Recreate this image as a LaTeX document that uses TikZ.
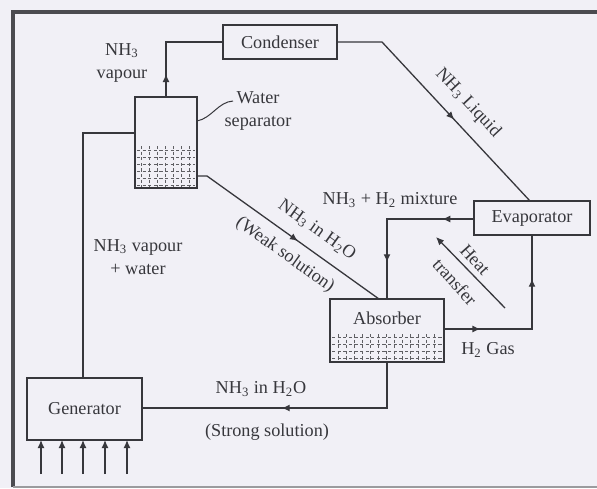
\documentclass[tikz,border=0pt]{standalone}
\usepackage{fontspec}
\setmainfont{Liberation Serif}
\usetikzlibrary{arrows.meta,decorations.markings}
\definecolor{bg}{RGB}{241,240,246}
\definecolor{ink}{RGB}{55,55,60}
\tikzset{
  box/.style={draw=ink,line width=0.9pt,inner sep=0pt},
  lbl/.style={text=ink,font=\fontsize{9.1}{11.5}\selectfont,inner sep=0pt,align=center},
  pipe/.style={draw=ink,line width=0.65pt},
  tip/.style={-{Latex[length=4pt,width=3.5pt]}},
  markone/.style={postaction={decorate},decoration={markings,
     mark=at position #1 with {\arrow{Latex[length=4pt,width=3.5pt]}}}},
  marktwo/.style 2 args={postaction={decorate},decoration={markings,
     mark=at position #1 with {\arrow{Latex[length=4pt,width=3.5pt]}},
     mark=at position #2 with {\arrow{Latex[length=4pt,width=3.5pt]}}}},
  liquid/.style={draw=ink!80,line width=0.4pt,dash pattern=on 1.6pt off 1.2pt}
}
\newcommand{\nh}{NH\textsubscript{3}}
\newcommand{\hh}{H\textsubscript{2}}
\begin{document}
\begin{tikzpicture}[x=0.5pt,y=-0.5pt]
\fill[bg] (0,0) rectangle (597,488);
\useasboundingbox (0,0) rectangle (597,488);
% frame
\draw[ink!90,line width=1.6pt] (13,487) -- (13,12) -- (597,12);
\draw[ink!50,line width=0.6pt] (13,487) -- (597,487);

% boxes
\node[box,minimum width=57pt,minimum height=17pt,lbl] (cond) at (280,42) {Condenser};
\node[box,minimum width=31pt,minimum height=45.5pt] (ws) at (166,142.5) {};
\node[box,minimum width=57.5pt,minimum height=31pt,lbl] (gen) at (84.5,409) {Generator};
\node[box,minimum width=57pt,minimum height=31.5pt] (abs) at (387,330.5) {};
\node[lbl] (abst) at (387,318) {Absorber};
\node[box,minimum width=58pt,minimum height=17pt,lbl] (evap) at (532,218) {Evaporator};

% liquid in water separator
\foreach \yy in {150,157,164,171,178,185} \draw[liquid] (137,\yy) -- (195,\yy);
\foreach \xx in {141,149,157,165,173,181,189} \draw[liquid] (\xx,146) -- (\xx,187);
% liquid in absorber
\foreach \yy in {337,344,351,358} \draw[liquid] (332,\yy) -- (442,\yy);
\foreach \xx in {338,346,354,362,370,378,386,394,402,410,418,426,434} \draw[liquid] (\xx,334) -- (\xx,361);

% coordinates
\coordinate (c1) at (166,42);
\coordinate (c2) at (382,42);
\coordinate (c3) at (387,219);
\coordinate (c4) at (532,329);
\coordinate (c5) at (207,176);
\coordinate (c6) at (387,408);
\coordinate (c7) at (83,133);
\coordinate (wsr) at (197,176);
\coordinate (wsl) at (135,133);
\coordinate (gent) at (83,378);
\coordinate (evapt) at (530,201);
\coordinate (evapl) at (474,219);
\coordinate (evapb) at (532,235);
\coordinate (absr) at (444,329);
\coordinate (abst1) at (387,299);
\coordinate (abst2) at (379,299);
\coordinate (absb) at (387,362);
\coordinate (genr) at (142,408);

% connectors
\draw[pipe,markone=0.2] (ws.north) -- (c1) -- (cond.west);
\draw[pipe,markone=0.576] (cond.east) -- (c2) -- (evapt);
\draw[pipe,marktwo={0.19}{0.78}] (evapl) -- (c3) -- (abst1);
\draw[pipe,marktwo={0.2}{0.76}] (absr) -- (c4) -- (evapb);
\draw[pipe,markone=0.55] (wsr) -- (c5) -- (abst2);
\draw[pipe,markone=0.52] (absb) -- (c6) -- (genr);
\draw[pipe] (gent) -- (c7) -- (wsl);

% heat transfer arrow
\coordinate (ht1) at (505,308);
\coordinate (ht2) at (436,237);
\draw[pipe,tip] (ht1) -- (ht2);

% heat input arrows
\foreach \xx/\nm in {41/a,62/b,83/c,105/d,127/e}{
  \coordinate (h\nm) at (\xx,474);
  \coordinate (g\nm) at (\xx,440);
  \draw[pipe,tip] (h\nm) -- (g\nm);
}

% water separator leader
\coordinate (wl1) at (197,121);
\coordinate (wl2) at (233,101);
\draw[pipe,line width=0.5pt] (wl1) .. controls (212,118) and (218,102) .. (wl2);

% labels
\node[lbl] (l1) at (122,63) {\nh\\vapour};
\node[lbl] (l2) at (258,111) {Water\\separator};
\node[lbl] (l3) at (138,257) {\nh{} vapour\\+ water};
\node[lbl] (l4) at (261,389) {\nh{} in H\textsubscript{2}O};
\node[lbl] (l5) at (267,432) {(Strong solution)};
\node[lbl] (l6) at (488,350) {\hh{} Gas};
\node[lbl] (l7) at (390,200) {\nh{} + \hh{} mixture};
\node[lbl,rotate=-47] (l8) at (468,103) {\nh{} Liquid};
\node[lbl,rotate=-35.6] (l9) at (317,230) {\nh{} in H\textsubscript{2}O};
\node[lbl,rotate=-35.6] (l10) at (285,255) {(Weak solution)};
\node[lbl,rotate=-48] (l11) at (475,260) {Heat};
\node[lbl,rotate=-48] (l12) at (455,282) {transfer};
\end{tikzpicture}
\end{document}
